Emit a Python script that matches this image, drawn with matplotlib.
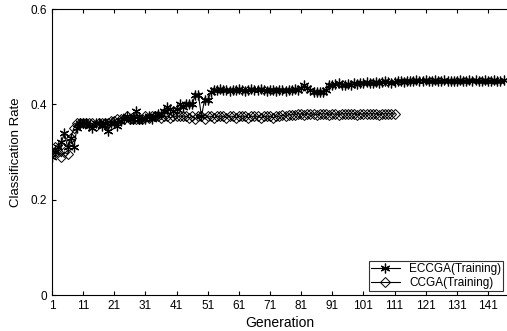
import matplotlib
matplotlib.use("Agg")
import matplotlib.pyplot as plt
import numpy as np

plt.rcParams['font.family'] = ['Liberation Sans', 'DejaVu Sans']

eccga = [
    0.29, 0.30, 0.31, 0.32, 0.34, 0.31, 0.33, 0.31, 0.35, 0.36,
    0.36, 0.36, 0.355, 0.35, 0.36, 0.36, 0.355, 0.36, 0.345, 0.36,
    0.36, 0.355, 0.365, 0.37, 0.375, 0.37, 0.37, 0.385, 0.37, 0.37,
    0.37, 0.375, 0.37, 0.375, 0.38, 0.38, 0.385, 0.395, 0.39, 0.385,
    0.39, 0.40, 0.395, 0.40, 0.40, 0.40, 0.42, 0.42, 0.375, 0.41,
    0.41, 0.425, 0.43, 0.43, 0.432, 0.43, 0.43, 0.428, 0.43, 0.43,
    0.432, 0.43, 0.428, 0.43, 0.432, 0.43, 0.43, 0.433, 0.43, 0.428,
    0.43, 0.43, 0.428, 0.43, 0.43, 0.428, 0.43, 0.43, 0.432, 0.43,
    0.435, 0.44, 0.435, 0.43, 0.425, 0.425, 0.425, 0.425, 0.43, 0.44,
    0.44, 0.442, 0.445, 0.44, 0.44, 0.442, 0.44, 0.445, 0.443, 0.445,
    0.445, 0.447, 0.445, 0.445, 0.447, 0.445, 0.447, 0.448, 0.447, 0.445,
    0.447, 0.448, 0.448, 0.447, 0.45, 0.45, 0.45, 0.451, 0.45, 0.45,
    0.451, 0.45, 0.45, 0.452, 0.45, 0.45, 0.451, 0.45, 0.448, 0.45,
    0.45, 0.451, 0.45, 0.45, 0.451, 0.45, 0.452, 0.45, 0.45, 0.451,
    0.45, 0.45, 0.451, 0.45, 0.45, 0.452,
]

ccga = [
    0.30, 0.31, 0.30, 0.29, 0.30, 0.295, 0.33, 0.35, 0.36, 0.36,
    0.36, 0.36, 0.36, 0.36, 0.355, 0.36, 0.36, 0.36, 0.36, 0.365,
    0.365, 0.37, 0.37, 0.37, 0.375, 0.37, 0.37, 0.37, 0.37, 0.37,
    0.375, 0.372, 0.375, 0.375, 0.375, 0.372, 0.375, 0.375, 0.372, 0.375,
    0.375, 0.375, 0.375, 0.375, 0.372, 0.375, 0.37, 0.375, 0.375, 0.37,
    0.375, 0.375, 0.372, 0.375, 0.375, 0.375, 0.372, 0.375, 0.375, 0.372,
    0.375, 0.375, 0.375, 0.372, 0.375, 0.375, 0.375, 0.372, 0.375, 0.375,
    0.375, 0.372, 0.375, 0.375, 0.378, 0.375, 0.378, 0.378, 0.378, 0.38,
    0.38, 0.378, 0.38, 0.38, 0.38, 0.378, 0.38, 0.38, 0.38, 0.378,
    0.38, 0.38, 0.378, 0.38, 0.38, 0.38, 0.38, 0.38, 0.378, 0.38,
    0.38, 0.38, 0.38, 0.38, 0.38, 0.378, 0.38, 0.38, 0.38, 0.38,
    0.38,
]

xticks = list(range(1, 146, 10))
yticks = [0, 0.2, 0.4, 0.6]
ytick_labels = ['0', '0.2', '0.4', '0.6']

fig = plt.figure(figsize=(5.07, 3.31), dpi=100)
ax = fig.add_axes([52/507, 1-295/331, 1-52/507, (295-9)/331])

gx_e = np.arange(1, len(eccga) + 1)
gx_c = np.arange(1, len(ccga) + 1)
ax.plot(gx_e, eccga, color='black', lw=0.8, marker=(6, 2, 0), ms=7, mew=0.9,
        label='ECCGA(Training)')
ax.plot(gx_c, ccga, color='black', lw=0.8, marker='D', ms=5, mew=0.7,
        fillstyle='none', label='CCGA(Training)')

ax.set_xlim(1, 147.1)
ax.set_ylim(0, 0.6)
ax.set_xticks(xticks)
ax.set_yticks(yticks)
ax.set_yticklabels(ytick_labels)
ax.tick_params(direction='in', top=True, right=False, labelsize=8.5, length=3)
ax.spines['right'].set_visible(False)
ax.set_xlabel('Generation', fontsize=10, labelpad=3)
ax.set_ylabel('Classification Rate', fontsize=9.5, labelpad=6)

leg = ax.legend(loc='lower right', fontsize=8.5, frameon=True, fancybox=False,
                edgecolor='black', borderaxespad=0.3, handlelength=2.4,
                borderpad=0.2, labelspacing=0.15)
leg.get_frame().set_linewidth(0.8)

fig.savefig('out.png', dpi=100)
